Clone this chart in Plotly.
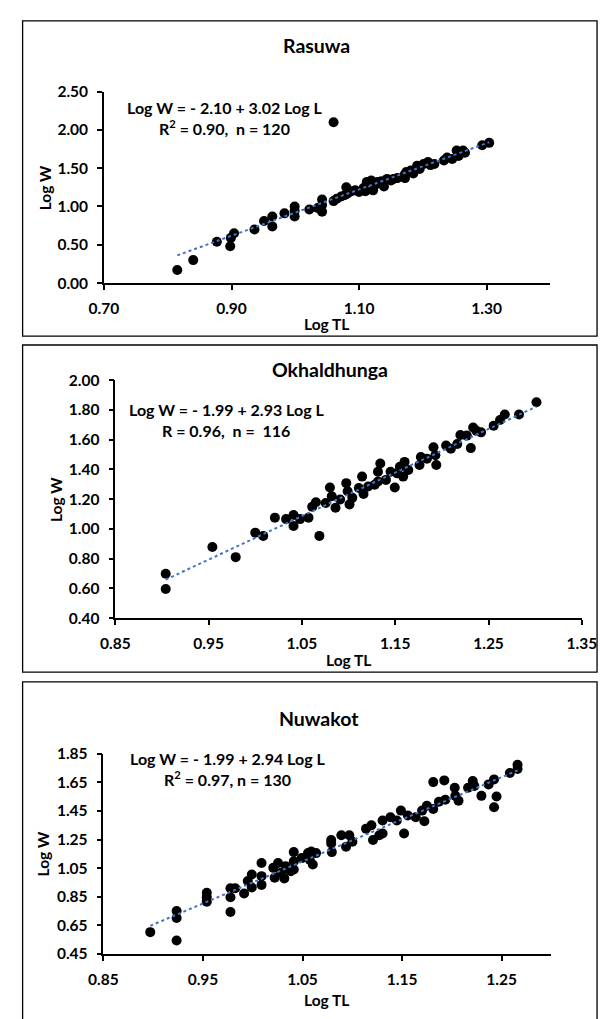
import plotly.graph_objects as go

# ---------------- data ----------------
rasuwa_x = [0.815, 0.840, 0.877, 0.898, 0.899, 0.904, 0.936, 0.951, 0.964, 0.964, 0.983,
            0.999, 0.999, 0.999, 1.022, 1.035, 1.042, 1.042, 1.042, 1.060, 1.060, 1.065,
            1.072, 1.078, 1.080, 1.082, 1.088, 1.094, 1.100, 1.107, 1.110, 1.112, 1.119,
            1.122, 1.125, 1.129, 1.135, 1.139, 1.144, 1.150, 1.154, 1.160, 1.171, 1.172,
            1.174, 1.181, 1.185, 1.191, 1.195, 1.201, 1.208, 1.212, 1.218, 1.233, 1.238,
            1.246, 1.253, 1.256, 1.263, 1.266, 1.293, 1.304]
rasuwa_y = [0.17, 0.30, 0.54, 0.48, 0.59, 0.65, 0.70, 0.81, 0.87, 0.74, 0.91,
            1.00, 0.94, 0.87, 0.96, 0.98, 1.09, 1.02, 0.93, 2.10, 1.07, 1.10,
            1.13, 1.15, 1.25, 1.17, 1.20, 1.21, 1.19, 1.24, 1.20, 1.32, 1.34,
            1.21, 1.28, 1.32, 1.33, 1.26, 1.36, 1.34, 1.36, 1.37, 1.41, 1.37,
            1.45, 1.47, 1.43, 1.53, 1.49, 1.555, 1.58, 1.54, 1.555, 1.60, 1.64,
            1.62, 1.73, 1.66, 1.73, 1.70, 1.80, 1.83]

okhal_x = [0.904, 0.904, 0.954, 0.979, 1.000, 1.0085, 1.021, 1.033, 1.041, 1.041, 1.048,
           1.057, 1.061, 1.065, 1.0687, 1.0755, 1.080, 1.082, 1.086, 1.091, 1.0975, 1.099,
           1.101, 1.104, 1.111, 1.1145, 1.116, 1.121, 1.128, 1.1315, 1.1315, 1.134, 1.140,
           1.145, 1.1495, 1.152, 1.155, 1.1585, 1.160, 1.164, 1.176, 1.1775, 1.184, 1.191,
           1.193, 1.194, 1.2045, 1.2096, 1.2165, 1.2198, 1.2267, 1.231, 1.2335, 1.237,
           1.242, 1.2555, 1.2623, 1.2674, 1.2827, 1.3014]
okhal_y = [0.698, 0.596, 0.878, 0.81, 0.975, 0.953, 1.076, 1.066, 1.094, 1.02, 1.066,
           1.076, 1.149, 1.18, 0.953, 1.175, 1.279, 1.22, 1.142, 1.198, 1.308, 1.253,
           1.165, 1.209, 1.275, 1.352, 1.235, 1.286, 1.297, 1.319, 1.385, 1.44, 1.33,
           1.385, 1.279, 1.374, 1.418, 1.352, 1.451, 1.396, 1.43, 1.484, 1.473, 1.55,
           1.496, 1.43, 1.562, 1.54, 1.572, 1.632, 1.628, 1.544, 1.683, 1.66,
           1.65, 1.694, 1.733, 1.77, 1.77, 1.853]

nuwa_x = [0.897, 0.9235, 0.9235, 0.9235, 0.9538, 0.9538, 0.9538, 0.9776, 0.9776, 0.9776,
          0.9824, 0.9913, 0.995, 0.999, 0.999, 1.0088, 1.0088, 1.0088, 1.0206, 1.022,
          1.0254, 1.0285, 1.0317, 1.033, 1.0381, 1.0412, 1.0412, 1.0412, 1.0492, 1.0555,
          1.0572, 1.0588, 1.0603, 1.0636, 1.0788, 1.0788, 1.0794, 1.089, 1.0937, 1.097,
          1.1001, 1.1138, 1.1192, 1.1208, 1.1271, 1.1304, 1.1304, 1.1383, 1.1447, 1.1488,
          1.152, 1.1558, 1.1637, 1.1701, 1.1724, 1.1749, 1.1813, 1.1813, 1.187, 1.1924,
          1.1934, 1.2029, 1.2035, 1.2067, 1.2163, 1.221, 1.2226, 1.2297, 1.2369, 1.2424,
          1.2424, 1.2449, 1.2583, 1.266, 1.266]
nuwa_y = [0.603, 0.544, 0.75, 0.702, 0.878, 0.846, 0.816, 0.91, 0.846, 0.743,
          0.91, 0.873, 0.96, 1.006, 0.915, 1.086, 0.994, 0.933, 1.052, 0.983,
          1.086, 1.018, 0.978, 1.063, 1.029, 1.162, 1.097, 1.04, 1.12, 1.155,
          1.109, 1.166, 1.075, 1.155, 1.246, 1.223, 1.162, 1.28, 1.20, 1.28,
          1.235, 1.326, 1.349, 1.246, 1.28, 1.292, 1.383, 1.406, 1.383, 1.452,
          1.292, 1.418, 1.406, 1.452, 1.377, 1.486, 1.464, 1.651, 1.514, 1.663,
          1.528, 1.612, 1.555, 1.521, 1.612, 1.658, 1.624, 1.555, 1.635, 1.67,
          1.475, 1.55, 1.715, 1.772, 1.742]

panel_titles = ["Rasuwa", "Okhaldhunga", "Nuwakot"]
intercepts = [-2.10, -1.99, -1.99]
slopes = [3.02, 2.93, 2.94]
eq_line1 = ["Log W = - 2.10 + 3.02 Log L", "Log W = - 1.99 + 2.93 Log L", "Log W = - 1.99 + 2.94 Log L"]
eq_line2 = ["R<sup>2</sup> = 0.90,  n = 120", "R = 0.96,  n =  116", "R<sup>2</sup> = 0.97, n = 130"]

x_ticks = [[0.70, 0.90, 1.10, 1.30], [0.85, 0.95, 1.05, 1.15, 1.25, 1.35], [0.85, 0.95, 1.05, 1.15, 1.25]]
y_ticks = [[0.00, 0.50, 1.00, 1.50, 2.00, 2.50],
           [0.40, 0.60, 0.80, 1.00, 1.20, 1.40, 1.60, 1.80, 2.00],
           [0.45, 0.65, 0.85, 1.05, 1.25, 1.45, 1.65, 1.85]]
x_ranges = [[0.70, 1.40], [0.85, 1.35], [0.85, 1.30]]
y_ranges = [[0.00, 2.50], [0.40, 2.00], [0.45, 1.85]]

# ---------------- layout geometry (pixels) ----------------
W, H = 613, 1019
def fx(p): return p / W
def fy(p): return 1 - p / H

# plot area pixel boxes: left, right, top, bottom
boxes = [(93.5, 563, 83, 278), (105.5, 596, 377, 619), (93, 564, 757, 961)]
borders = [(8, 612, 11, 332), (8, 612, 341, 674), (8, 612, 684, 1030)]
title_pos = [(317, 36), (331, 366), (320, 721)]
eq_pos = [(220, 99, 120), (222, 407, 428), (223, 762, 782)]
xt_pos = [(328, 320), (351, 662), (328, 1008)]
yt_pos = [(31, 181), (43, 498), (29, 859)]

FONT = "Lato"
data_sets = [(rasuwa_x, rasuwa_y), (okhal_x, okhal_y), (nuwa_x, nuwa_y)]

def note(text, x, y, size, angle=0):
    return dict(text=text, x=fx(x), y=fy(y), xref="paper", yref="paper",
                xanchor="center", yanchor="middle", showarrow=False, textangle=angle,
                font=dict(family=FONT, size=size, color="black", weight="bold"))

fig = go.Figure()
annotations = []
shapes = []
for i, (xs, ys) in enumerate(data_sets):
    n = "" if i == 0 else str(i + 1)
    xa, ya = "x" + n, "y" + n
    fig.add_trace(go.Scatter(x=xs, y=ys, mode="markers", xaxis=xa, yaxis=ya,
                             marker=dict(color="black", size=10), showlegend=False))
    x0, x1 = min(xs), max(xs)
    fig.add_trace(go.Scatter(x=[x0, x1], y=[intercepts[i] + slopes[i] * x0, intercepts[i] + slopes[i] * x1],
                             mode="lines", xaxis=xa, yaxis=ya,
                             line=dict(color="#4472C4", width=2, dash="dot"), showlegend=False))
    L, R, T, B = boxes[i]
    common = dict(showline=True, linecolor="black", linewidth=1.5, ticks="outside", ticklen=5,
                  tickwidth=1.5, tickcolor="black", showgrid=False, zeroline=False,
                  tickfont=dict(family=FONT, size=15.5, color="black", weight="bold"),
                  tickformat=".2f", fixedrange=True, ticklabelstandoff=6)
    fig.layout["xaxis" + n] = dict(common, domain=[fx(L), fx(R)], range=x_ranges[i],
                                   tickmode="array", tickvals=x_ticks[i], anchor=ya)
    fig.layout["yaxis" + n] = dict(common, domain=[fy(B), fy(T)], range=y_ranges[i],
                                   tickmode="array", tickvals=y_ticks[i], anchor=xa)
    bl, br, bt, bb = borders[i]
    shapes.append(dict(type="rect", xref="paper", yref="paper", x0=fx(bl), x1=fx(br),
                       y0=fy(bb), y1=fy(bt), line=dict(color="black", width=1.3)))
    tx, ty = title_pos[i]
    annotations.append(note(panel_titles[i], tx, ty, 19.5))
    ex, ey1, ey2 = eq_pos[i]
    annotations.append(note(eq_line1[i], ex, ey1, 16))
    annotations.append(note(eq_line2[i], ex, ey2, 16))
    annotations.append(note("Log TL", *xt_pos[i], 15.5))
    annotations.append(note("Log W", *yt_pos[i], 15.5, angle=-90))

fig.update_layout(width=W, height=H, margin=dict(l=0, r=0, t=0, b=0),
                  paper_bgcolor="white", plot_bgcolor="white",
                  annotations=annotations, shapes=shapes)

fig.write_html("out.html", config={"displayModeBar": False},
               post_script="document.body.style.margin='0';")
